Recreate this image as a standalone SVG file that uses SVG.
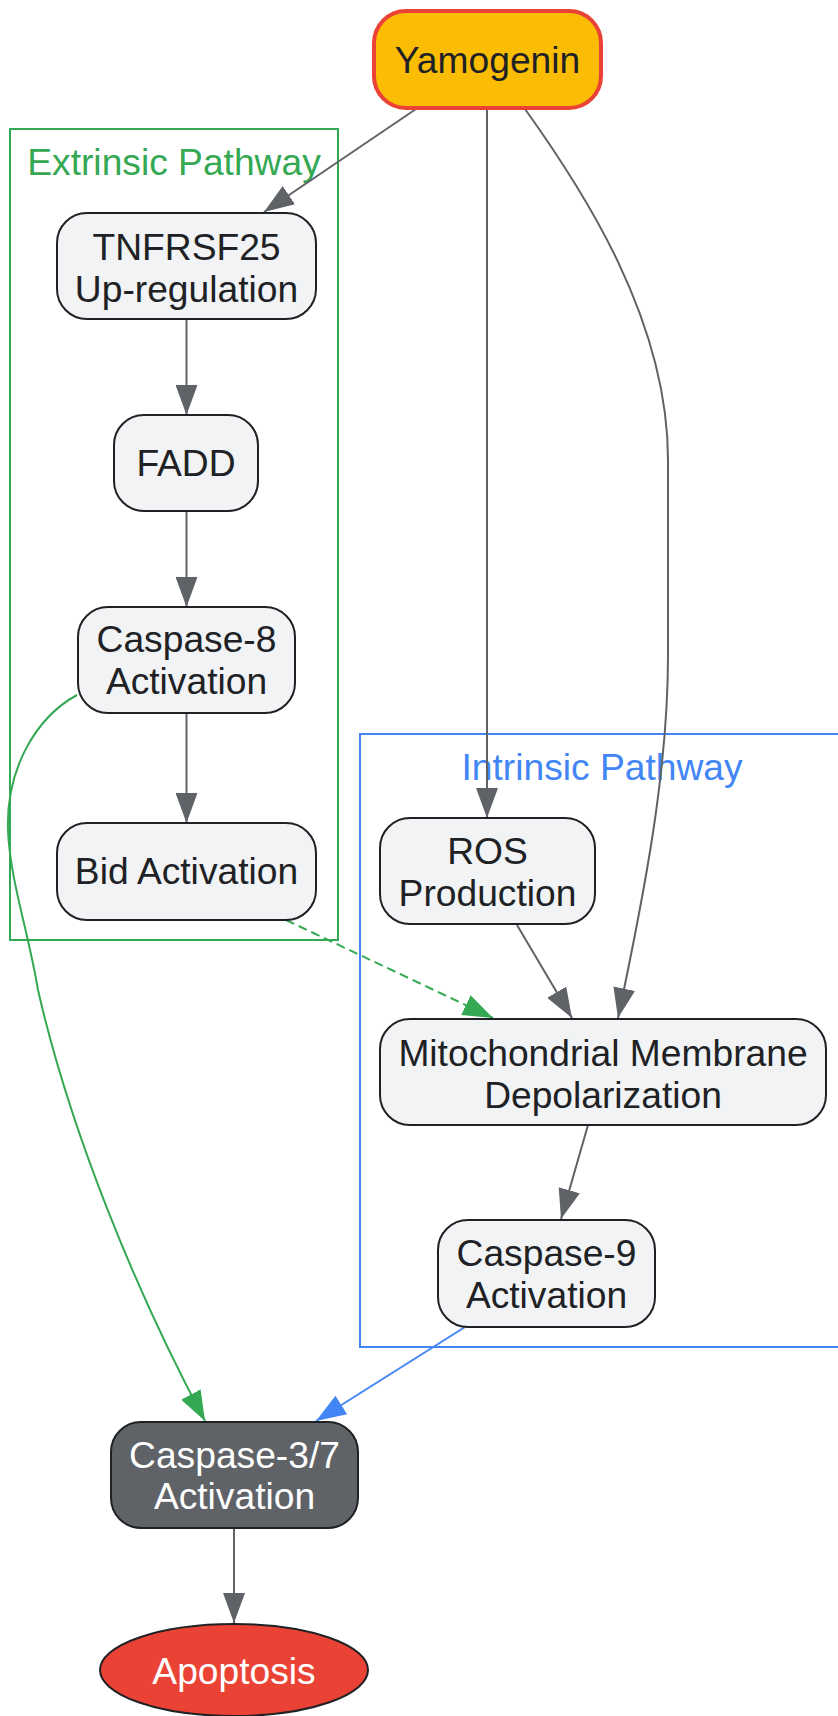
<svg xmlns="http://www.w3.org/2000/svg" width="838" height="1716" viewBox="0 0 838 1716">
<defs>
<style>
.node{fill:#F1F3F4;stroke:#202124;stroke-width:2}
.t{font-family:"Liberation Sans",Arial,sans-serif;font-size:37.2px;fill:#202124;text-anchor:middle}
.w{fill:#FFFFFF}
.e{fill:none;stroke-width:2}
.g{stroke:#5F6368}
.gr{stroke:#34A853}
.bl{stroke:#4285F4}
</style>
<marker id="ag" viewBox="0 0 30 22" refX="30" refY="11" markerWidth="30" markerHeight="22" markerUnits="userSpaceOnUse" orient="auto"><path d="M0,0 L30,11 L0,22 z" fill="#5F6368"/></marker>
<marker id="agr" viewBox="0 0 30 22" refX="30" refY="11" markerWidth="30" markerHeight="22" markerUnits="userSpaceOnUse" orient="auto"><path d="M0,0 L30,11 L0,22 z" fill="#34A853"/></marker>
<marker id="abl" viewBox="0 0 30 22" refX="30" refY="11" markerWidth="30" markerHeight="22" markerUnits="userSpaceOnUse" orient="auto"><path d="M0,0 L30,11 L0,22 z" fill="#4285F4"/></marker>
</defs>
<rect width="838" height="1716" fill="#FFFFFF"/>
<g id="cluster-extrinsic">
<rect x="10" y="129" width="328" height="811" fill="none" stroke="#34A853" stroke-width="2"/>
<text class="t" x="174" y="175" style="fill:#34A853">Extrinsic Pathway</text>
</g>
<g id="cluster-intrinsic">
<rect x="360" y="734" width="484" height="613" fill="none" stroke="#4285F4" stroke-width="2"/>
<text class="t" x="602" y="780" style="fill:#4285F4">Intrinsic Pathway</text>
</g>
<g id="connectors">
<path class="e g" d="M416,109 L264,212" marker-end="url(#ag)"/>
<path class="e g" d="M487,109 L487,818" marker-end="url(#ag)"/>
<path class="e g" d="M525,109 C583,190 668,320 668,460 L668,656 C668,770 645,890 618,1018" marker-end="url(#ag)"/>
<path class="e g" d="M186.5,319 L186.5,415" marker-end="url(#ag)"/>
<path class="e g" d="M186.5,511 L186.5,607" marker-end="url(#ag)"/>
<path class="e g" d="M186.5,713 L186.5,823" marker-end="url(#ag)"/>
<path class="e gr" d="M77,695 C35,718 6,770 8,830 C10,880 28,930 38,990 C70,1130 135,1290 205,1421" marker-end="url(#agr)"/>
<path class="e gr" d="M286,920 L493,1018" stroke-dasharray="9,5" marker-end="url(#agr)"/>
<path class="e g" d="M517,925 L572,1018" marker-end="url(#ag)"/>
<path class="e g" d="M588,1125 L561,1219" marker-end="url(#ag)"/>
<path class="e bl" d="M465,1327 L316,1421" marker-end="url(#abl)"/>
<path class="e g" d="M234,1528 L234,1623" marker-end="url(#ag)"/>
</g>
<g id="yamogenin">
<rect x="374" y="11" width="227" height="97" rx="32" fill="#FBBC04" stroke="#EA4335" stroke-width="4"/>
<text class="t" x="487.5" y="73">Yamogenin</text>
</g>
<g id="tnfrsf25">
<rect class="node" x="57" y="213" width="259" height="106" rx="30"/>
<text class="t" x="186.5" y="260">TNFRSF25</text>
<text class="t" x="186.5" y="302">Up-regulation</text>
</g>
<g id="fadd">
<rect class="node" x="114" y="415" width="144" height="96" rx="30"/>
<text class="t" x="186" y="476">FADD</text>
</g>
<g id="caspase8">
<rect class="node" x="78" y="607" width="217" height="106" rx="30"/>
<text class="t" x="186.5" y="652">Caspase-8</text>
<text class="t" x="186.5" y="694">Activation</text>
</g>
<g id="bid">
<rect class="node" x="57" y="823" width="259" height="97" rx="30"/>
<text class="t" x="186.5" y="884">Bid Activation</text>
</g>
<g id="ros">
<rect class="node" x="380" y="818" width="215" height="106" rx="30"/>
<text class="t" x="487.5" y="864">ROS</text>
<text class="t" x="487.5" y="906">Production</text>
</g>
<g id="mito">
<rect class="node" x="380" y="1019" width="446" height="106" rx="30"/>
<text class="t" x="603" y="1066">Mitochondrial Membrane</text>
<text class="t" x="603" y="1108">Depolarization</text>
</g>
<g id="caspase9">
<rect class="node" x="438" y="1220" width="217" height="107" rx="30"/>
<text class="t" x="546.5" y="1266">Caspase-9</text>
<text class="t" x="546.5" y="1308">Activation</text>
</g>
<g id="caspase37">
<rect x="111" y="1422" width="247" height="106" rx="30" fill="#5F6368" stroke="#202124" stroke-width="2"/>
<text class="t w" x="234.5" y="1468">Caspase-3/7</text>
<text class="t w" x="234.5" y="1509">Activation</text>
</g>
<g id="apoptosis">
<ellipse cx="234" cy="1670" rx="134" ry="46" fill="#EA4335" stroke="#202124" stroke-width="2"/>
<text class="t w" x="234" y="1684">Apoptosis</text>
</g>
</svg>
